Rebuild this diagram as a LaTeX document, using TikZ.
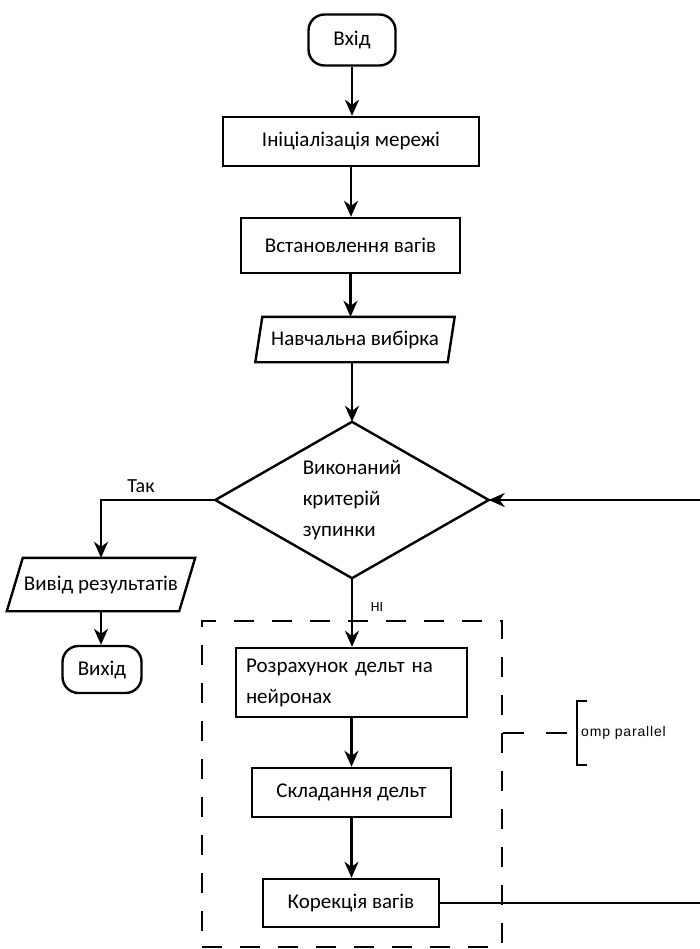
\documentclass[tikz,border=0pt]{standalone}
\usepackage{fontspec}
\setmainfont{Carlito}
\newfontfamily\ompfont[LetterSpace=6]{Liberation Sans}
\usetikzlibrary{arrows.meta}

\begin{document}
\begin{tikzpicture}[x=1pt,y=-1pt,
  line width=2.4pt,
  lbl/.style={font=\fontsize{21}{31}\selectfont},
  box/.style={draw, rectangle, lbl, inner sep=0pt},
  term/.style={draw, rectangle, rounded corners=16pt, lbl, inner sep=0pt},
  ghost/.style={rectangle, inner sep=0pt, lbl},
  arr/.style={-{Stealth[length=16pt,width=14pt,inset=5pt]}},
  frame/.style={draw, dash pattern=on 20pt off 18pt},
  ]
\useasboundingbox (0,0) rectangle (700,949);
\fill[white] (0,0) rectangle (700,949);
\clip (0,0) rectangle (700,949);

% main column
\node[term, minimum width=87pt, minimum height=51pt] (in) at (352,40) {Вхід};
\node[box, minimum width=256pt, minimum height=49pt] (init) at (351,141.5) {Ініціалізація мережі};
\node[box, minimum width=219pt, minimum height=55pt] (w) at (350.5,245.5) {Встановлення вагів};

\node[ghost, minimum width=190pt, minimum height=43pt] (train) at (355,339.5) {Навчальна вибірка};
\draw ([xshift=3.5pt]train.north west) -- ([xshift=3.5pt]train.north east)
   -- ([xshift=-3.5pt]train.south east) -- ([xshift=-3.5pt]train.south west) -- cycle;

\node[ghost, minimum width=271pt, minimum height=154pt, align=left] (crit) at (352,500)
  {Виконаний\\критерій\\зупинки};
\draw (crit.north) -- (crit.east) -- (crit.south) -- (crit.west) -- cycle;

% exit branch
\node[ghost, minimum width=170pt, minimum height=51pt] (out) at (101,584.5) {Вивід результатів};
\draw ([xshift=8pt]out.north west) -- ([xshift=8pt]out.north east)
   -- ([xshift=-8pt]out.south east) -- ([xshift=-8pt]out.south west) -- cycle;
\node[term, minimum width=79pt, minimum height=47pt] (end) at (102,669.5) {Вихід};

% training loop body
\node[frame, minimum width=300pt, minimum height=326pt, inner sep=0pt] (par) at (352,784) {};
\node[box, minimum width=231pt, minimum height=69pt, text width=211pt, align=left] (calc) at (351.5,682.5)
  {Розрахунок дельт на\\нейронах};
\node[box, minimum width=199pt, minimum height=49pt] (sum) at (351.5,792.5) {Складання дельт};
\node[box, minimum width=176pt, minimum height=48pt] (fix) at (351,903) {Корекція вагів};

% labels
\node[font=\fontsize{20}{20}\selectfont, inner sep=0pt] (yes) at (141,486) {Так};
\node[font=\fontsize{14}{14}\selectfont, inner sep=0pt] (no) at (377,607) {НІ};

% parallel region annotation
\coordinate (br) at (577,733);
\draw[dash pattern=on 21pt off 22pt] (par.east |- br) -- (br);
\draw (br) ++(10,-32) -- ++(-10,0) -- ++(0,64) -- ++(10,0);
\node[anchor=west, font=\ompfont\fontsize{14}{14}\selectfont, inner sep=0pt] (omptext) at (580,733) {omp parallel};

% connectors
\draw[arr] (in.south) -- (in.south |- init.north);
\draw[arr] (init.south) -- (init.south |- w.north);
\draw[arr] (w.south) -- (w.south |- train.north);
\draw[arr] (crit.north |- train.south) -- (crit.north);
\draw[arr] (crit.west) -| (out.north);
\draw[arr] (out.south) -- (out.south |- end.north);
\draw[arr] (crit.south) -- (crit.south |- calc.north);
\draw[arr] (calc.south) -- (calc.south |- sum.north);
\draw[arr] (sum.south) -- (sum.south |- fix.north);
\coordinate (loop) at (720,700);
\draw[arr] (fix.east) -| (loop) |- (crit.east);
\end{tikzpicture}
\end{document}
